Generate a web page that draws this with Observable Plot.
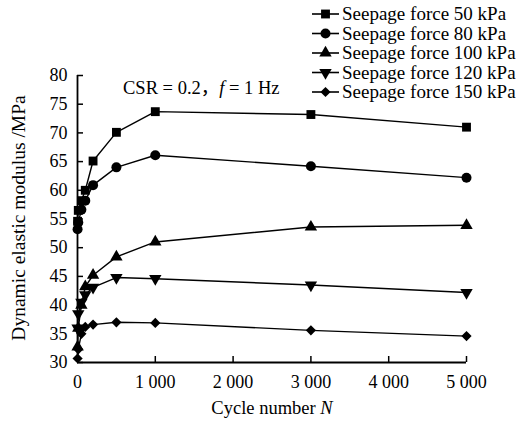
<!DOCTYPE html>
<html>
<head>
<meta charset="utf-8">
<script src="https://cdn.jsdelivr.net/npm/d3@7"></script>
<script src="https://cdn.jsdelivr.net/npm/@observablehq/plot@0.6"></script>
<style>
  html, body { margin: 0; padding: 0; background: #fff; }
</style>
</head>
<body>
<div id="chart"></div>
<script>
// ---- data ----
const cycles = [1, 10, 50, 100, 200, 500, 1000, 3000, 5000];
const seriesNames = [
  "Seepage force 50 kPa",
  "Seepage force 80 kPa",
  "Seepage force 100 kPa",
  "Seepage force 120 kPa",
  "Seepage force 150 kPa"
];
const e50  = [54.6, 56.5, 58.2, 60.0, 65.1, 70.1, 73.7, 73.2, 71.0];
const e80  = [53.2, 54.4, 56.6, 58.2, 60.9, 64.0, 66.1, 64.2, 62.2];
const e100 = [32.7, 36.0, 40.0, 43.2, 45.2, 48.4, 51.0, 53.6, 53.9];
const e120 = [36.0, 38.5, 40.5, 41.8, 43.1, 44.8, 44.6, 43.5, 42.2];
const e150 = [30.7, 32.3, 35.0, 36.2, 36.6, 37.0, 36.9, 35.6, 34.6];
const xTicks = [0, 1000, 2000, 3000, 4000, 5000];
const yTicks = [30, 35, 40, 45, 50, 55, 60, 65, 70, 75, 80];
const xTitle = ["Cycle number ", "N"];
const yTitle = "Dynamic elastic modulus /MPa";
const note = ["CSR = 0.2", "，", "f", " = 1 Hz"];

// ---- build table ----
const values = [e50, e80, e100, e120, e150];
const table = [];
seriesNames.forEach((s, i) => cycles.forEach((n, j) => table.push({series: s, N: n, E: values[i][j]})));

// custom downward triangle symbol
const triangleDown = {
  draw(context, size) {
    const y = -Math.sqrt(size / (Math.sqrt(3) * 3));
    context.moveTo(0, -y * 2);
    context.lineTo(-Math.sqrt(3) * y, y);
    context.lineTo(Math.sqrt(3) * y, y);
    context.closePath();
  }
};
const symbols = ["square", "circle", "triangle", triangleDown, "diamond2"];
const d3Symbols = [d3.symbolSquare, d3.symbolCircle, d3.symbolTriangle, triangleDown, d3.symbolDiamond2];
const radii = [5, 5, 4.6, 4.6, 4.6];

const font = "'Liberation Serif', 'Times New Roman', serif";
const fmt = d => d3.format(",")(d).replace(/,/g, " ");

const plot = Plot.plot({
  width: 527,
  height: 432,
  marginLeft: 77,
  marginRight: 61,
  marginTop: 75,
  marginBottom: 70,
  style: {fontFamily: font, fontSize: "18px", color: "black", background: "white", overflow: "visible"},
  x: {domain: [0, 5000]},
  y: {domain: [30, 80]},
  marks: [
    Plot.axisX({ticks: xTicks, tickSize: -6, tickPadding: 19, tickFormat: fmt, label: null, strokeWidth: 1.5}),
    Plot.axisY({ticks: yTicks, tickSize: -6, tickPadding: 16, label: null, strokeWidth: 1.5}),
    Plot.ruleX([0], {stroke: "black", strokeWidth: 1.8}),
    Plot.ruleY([30], {stroke: "black", strokeWidth: 1.8}),
    Plot.line(table, {x: "N", y: "E", z: "series", stroke: "black", strokeWidth: 1.4}),
    ...seriesNames.map((s, i) => Plot.dot(table.filter(d => d.series === s), {
      x: "N", y: "E", symbol: symbols[i], r: radii[i], fill: "black", stroke: "none"
    }))
  ]
});

const svg = d3.select(plot);

// axis titles
const xt = svg.append("text")
  .attr("x", 272).attr("y", 414)
  .attr("text-anchor", "middle")
  .attr("font-family", font).attr("font-size", 18.5).attr("fill", "black");
xt.append("tspan").text(xTitle[0]);
xt.append("tspan").attr("font-style", "italic").text(xTitle[1]);

svg.append("text")
  .attr("transform", "translate(25,218) rotate(-90)")
  .attr("text-anchor", "middle")
  .attr("font-family", font).attr("font-size", 19.5).attr("fill", "black")
  .text(yTitle);

// annotation
const nt = svg.append("text")
  .attr("x", 123).attr("y", 94)
  .attr("text-anchor", "start")
  .attr("font-family", font).attr("font-size", 18.5).attr("fill", "black");
nt.append("tspan").text(note[0]);
nt.append("tspan").attr("font-family", "'Noto Sans CJK SC'").text(note[1]);
nt.append("tspan").attr("font-style", "italic").text(note[2]);
nt.append("tspan").text(note[3]);

// legend
const legendY = [14, 33.5, 53, 72.5, 92];
const lg = svg.append("g");
seriesNames.forEach((s, i) => {
  const y = legendY[i];
  lg.append("line").attr("x1", 312).attr("x2", 339).attr("y1", y).attr("y2", y)
    .attr("stroke", "black").attr("stroke-width", 1.6);
  lg.append("path")
    .attr("d", d3.symbol(d3Symbols[i], Math.PI * radii[i] * radii[i])())
    .attr("transform", `translate(325.5,${y})`).attr("fill", "black");
  lg.append("text").attr("x", 342).attr("y", y).attr("dy", "0.34em")
    .attr("text-anchor", "start")
    .attr("font-family", font).attr("font-size", 19).attr("fill", "black").text(s);
});

document.getElementById("chart").appendChild(plot);
</script>
</body>
</html>
